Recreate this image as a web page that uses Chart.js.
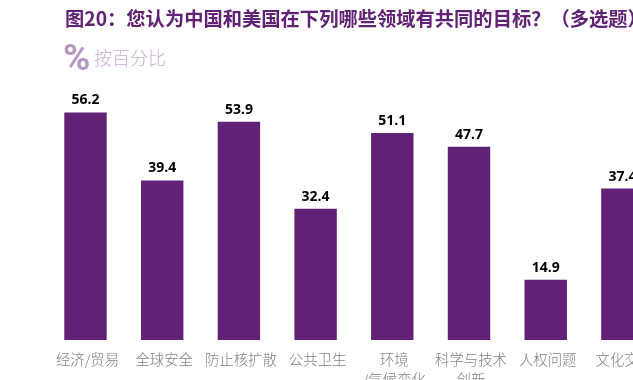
<!DOCTYPE html>
<html><head><meta charset="utf-8">
<style>
html,body{margin:0;padding:0;width:633px;height:380px;overflow:hidden;background:#fff}
#wrap{position:absolute;left:0;top:0;width:738px;height:420px}
.t{position:absolute;white-space:nowrap;font-family:"Noto Sans CJK SC",sans-serif}
#title{left:65px;top:4px;font-size:19.3px;font-weight:700;color:#612174;line-height:28px}
#pct{left:63px;top:36px;font-family:Roboto,sans-serif;font-size:37px;font-weight:700;color:#b697c2;line-height:44px}
#sub{left:94px;top:44px;font-size:18px;font-weight:300;color:#c9aed3;line-height:26px}
</style>
<script src="https://cdn.jsdelivr.net/npm/chart.js@4"></script>
</head><body>
<div id="wrap"><canvas id="c" width="738" height="420"></canvas></div>
<div class="t" id="title">图20：您认为中国和美国在下列哪些领域有共同的目标？（多选题）</div>
<div class="t" id="pct">%</div>
<div class="t" id="sub">按百分比</div>
<script>
const categories=["经济/贸易","全球安全","防止核扩散","公共卫生",["环境","/气候变化"],["科学与技术","创新"],"人权问题","文化交流"];
const values=[56.2,39.4,53.9,32.4,51.1,47.7,14.9,37.4];
const barColor="#612174";
const valueLabels={id:"valueLabels",afterDatasetsDraw(chart){
  const ctx=chart.ctx;ctx.save();
  ctx.font='700 14px "Open Sans",sans-serif';ctx.fillStyle="#000";ctx.textAlign="center";ctx.textBaseline="bottom";
  chart.getDatasetMeta(0).data.forEach((b,i)=>{ctx.fillText(values[i].toFixed(1),b.x,b.y-5);});
  ctx.restore();}};
new Chart(document.getElementById("c"),{type:"bar",
 data:{labels:categories,datasets:[{data:values,backgroundColor:barColor,categoryPercentage:1,barPercentage:0.553}]},
 plugins:[valueLabels],
 options:{responsive:false,animation:false,
  layout:{padding:{left:47.15,top:97,right:77.25,bottom:0}},
  plugins:{legend:{display:false},tooltip:{enabled:false}},
  scales:{
   y:{display:false,min:0,max:60},
   x:{grid:{display:false},border:{display:false},
      ticks:{color:"#7f7f7f",maxRotation:0,autoSkip:false,padding:1,labelOffset:2,font:{family:'"Noto Sans CJK SC",sans-serif',size:14.4,weight:300,lineHeight:1.4}},
      afterFit(s){s.height=80;}}
  }}});
</script>
</body></html>
